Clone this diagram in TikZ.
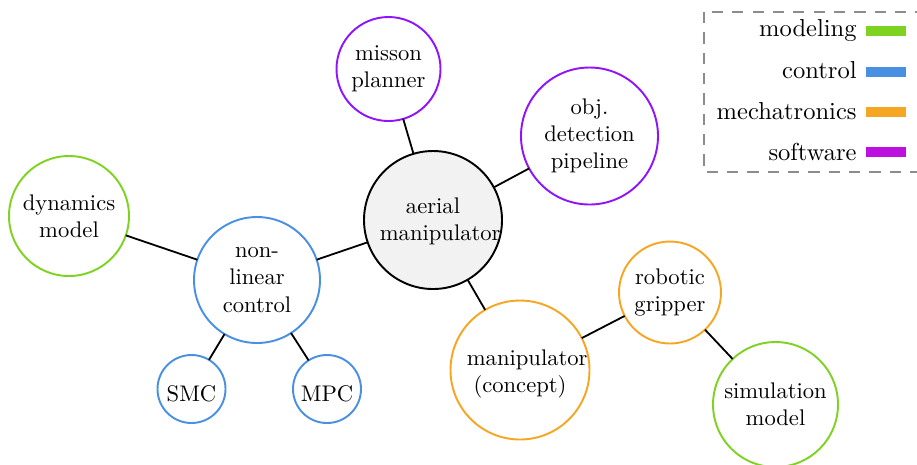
\documentclass[tikz,border=0pt]{standalone}
\usepackage{tikz}

\definecolor{cmodel}{HTML}{7ED321}
\definecolor{ccontrol}{HTML}{4A90E2}
\definecolor{cmecha}{HTML}{F5A623}
\definecolor{csoft}{HTML}{9013FE}
\definecolor{csoftkey}{HTML}{BD10E0}
\definecolor{hubfill}{HTML}{F2F2F2}

\tikzset{
  topic/.style={circle, draw, line width=0.85pt, inner sep=0pt, outer sep=0pt,
                align=center, font=\normalsize, fill=white},
  rad/.style={minimum size={2*#1*0.4425pt}},
  % invisible strut on the first line, to set the text a little lower in its circle
  firstline/.style={execute at begin node={\rule{0pt}{#1}}},
  modeling/.style={topic, draw=cmodel},
  controlnode/.style={topic, draw=ccontrol},
  mecha/.style={topic, draw=cmecha},
  softnode/.style={topic, draw=csoft},
  hub/.style={topic, draw=black, fill=hubfill},
  link/.style={draw=black, line width=0.8pt},
  keytext/.style={anchor=base east, inner sep=0pt, font=\fontsize{10.85}{13}\selectfont},
  keybar/.style={fill=#1, draw=none},
  keyframe/.style={draw=black!45, line width=0.9pt, dash pattern=on 5pt off 4pt},
}

\begin{document}
\begin{tikzpicture}[x=0.4425pt, y=-0.4425pt]
  \useasboundingbox (0,0) rectangle (917,464);

  % central topic and its branches
  \node[hub, rad=69, text width=47pt, firstline=8.2pt] (aerial) at (433,220) {aerial\\manipulator};
  \node[softnode, rad=52, firstline=9.4pt] (planner) at (388.5,69) {misson\\planner};
  \node[softnode, rad=68.5, firstline=8.2pt] (detect) at (589.5,136) {obj.\\detection\\pipeline};
  \node[controlnode, rad=63, firstline=5.6pt] (nlc) at (257,280) {non-\\linear\\control};
  \node[modeling, rad=60, firstline=12pt] (dyn) at (69,216) {dynamics\\model};
  \node[controlnode, rad=34, firstline=11.2pt] (smc) at (191.5,389) {SMC};
  \node[controlnode, rad=34, firstline=11.2pt] (mpc) at (327,389) {MPC};
  \node[mecha, rad=69.5, text width=47pt, firstline=10.4pt] (concept) at (520,370) {manipulator\\(concept)};
  \node[mecha, rad=51, firstline=12.6pt] (gripper) at (670,292.5) {robotic\\gripper};
  \node[modeling, rad=62.5, firstline=11.2pt] (sim) at (775.5,404.5) {simulation\\model};

  % connections
  \draw[link] (aerial) -- (planner);
  \draw[link] (aerial) -- (detect);
  \draw[link] (aerial) -- (nlc);
  \draw[link] (aerial) -- (concept);
  \draw[link] (nlc) -- (dyn);
  \draw[link] (nlc) -- (smc);
  \draw[link] (nlc) -- (mpc);
  \draw[link] (concept) -- (gripper);
  \draw[link] (gripper) -- (sim);

  % legend
  \draw[keyframe] (704,12) rectangle (940,172);
  \node[keytext] (kmodel) at (857,36) {modeling};
  \node[keytext] (kcontrol) at (857,78.5) {control};
  \node[keytext] (kmecha) at (857,119) {mechatronics};
  \node[keytext] (ksoft) at (857,160) {software};
  \fill[keybar=cmodel] (866,26) rectangle (906,36);
  \fill[keybar=ccontrol] (866,67) rectangle (906,77);
  \fill[keybar=cmecha] (866,107) rectangle (906,117);
  \fill[keybar=csoftkey] (866,147) rectangle (906,157);
\end{tikzpicture}
\end{document}
